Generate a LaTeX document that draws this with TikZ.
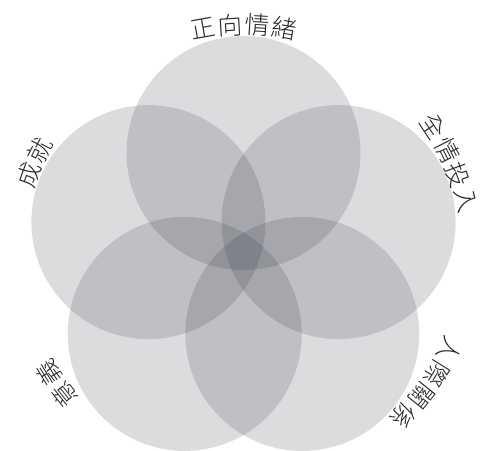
\documentclass[tikz,border=0pt]{standalone}
\usepackage{fontspec}
\newfontfamily\cjk{Noto Sans CJK TC}[UprightFont={* Light}]
\usepackage{tikz}
\definecolor{vennfill}{RGB}{36,40,52}
\definecolor{lbltext}{RGB}{40,40,40}
\tikzset{
  venn/.style={circle, minimum size=4.68cm, inner sep=0pt, draw=none,
               fill=vennfill, fill opacity=0.16},
  lbl/.style={inner sep=0pt, text=lbltext, font=\cjk\fontsize{14}{16}\selectfont},
}
% name, middle angle, number of characters, characters
\newcommand{\arclabel}[4]{%
  \foreach \ch [count=\i] in {#4} {
    \pgfmathsetmacro{\ang}{#2+6.8*((#3+1)/2-\i)}
    \node[lbl, rotate=\ang-90] (#1-\i) at (\ang:4.56) {\ch};
  }}

\begin{document}
\begin{tikzpicture}
\useasboundingbox (-4.87,-3.94) rectangle (4.91,5.06);
% five circles
\node[venn] (pos) at (90:2) {};
\node[venn] (ach) at (162:2) {};
\node[venn] (mea) at (234:2) {};
\node[venn] (rel) at (306:2) {};
\node[venn] (eng) at (18:2) {};
% labels along the rim
\arclabel{pos}{90}{4}{正,向,情,緒}
\arclabel{eng}{23.4}{4}{全,情,投,入}
\arclabel{rel}{-35.3}{4}{人,際,關,係}
\arclabel{mea}{215}{2}{意,義}
\arclabel{ach}{156.6}{2}{成,就}
\end{tikzpicture}
\end{document}
